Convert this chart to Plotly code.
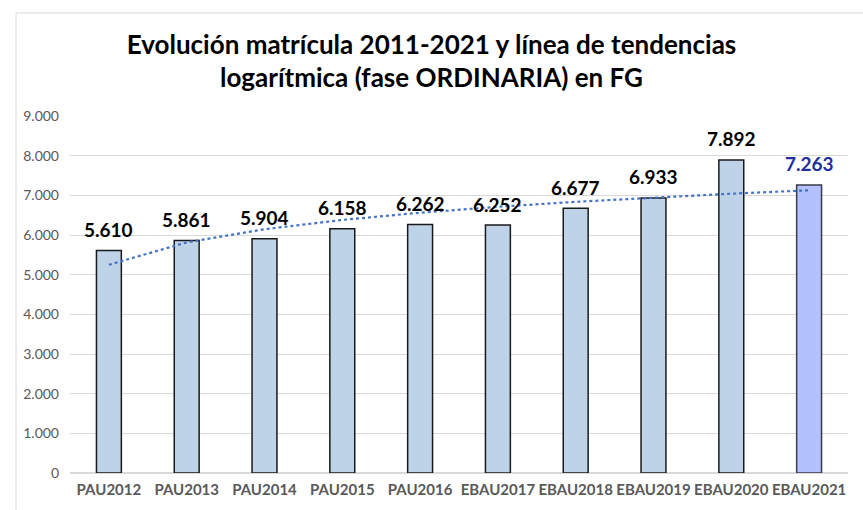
import numpy as np
import plotly.graph_objects as go

categories = ["PAU2012", "PAU2013", "PAU2014", "PAU2015", "PAU2016",
              "EBAU2017", "EBAU2018", "EBAU2019", "EBAU2020", "EBAU2021"]
values = [5610, 5861, 5904, 6158, 6262, 6252, 6677, 6933, 7892, 7263]
tick_vals = [0, 1000, 2000, 3000, 4000, 5000, 6000, 7000, 8000, 9000]
tick_text = ["0", "1.000", "2.000", "3.000", "4.000", "5.000", "6.000", "7.000", "8.000", "9.000"]

def fmt(v):
    return f"{v:,}".replace(",", ".")

# logarithmic trend line fitted to the values
xs = np.arange(1, len(values) + 1)
a, b = np.polyfit(np.log(xs), values, 1)
trend = a * np.log(xs) + b

bar_colors = ["#BFD3E8"] * (len(values) - 1) + ["#B3C1FE"]
line_colors = ["#1A1A1A"] * (len(values) - 1) + ["#3A3A4A"]
label_colors = ["#000000"] * (len(values) - 1) + ["#1F2F9F"]

FONT = "Lato, Carlito, Calibri, Arial"

fig = go.Figure()
fig.add_trace(go.Bar(
    x=categories, y=values, width=0.32,
    marker=dict(color=bar_colors, line=dict(color=line_colors, width=1.5)),
    hoverinfo="skip",
))
fig.add_trace(go.Scatter(
    x=categories, y=trend, mode="lines",
    line=dict(color="#4472C4", width=2.2, dash="dot"),
    hoverinfo="skip",
))

for c, v, col in zip(categories, values, label_colors):
    fig.add_annotation(x=c, y=v, text="<b>" + fmt(v) + "</b>", showarrow=False, yanchor="middle",
                       yshift=21, font=dict(size=19, color=col, family=FONT))

fig.update_layout(
    width=863, height=510,
    margin=dict(l=70, r=15, t=116, b=37),
    paper_bgcolor="white", plot_bgcolor="white",
    showlegend=False,
    title=dict(
        text="<b>Evolución matrícula 2011-2021 y línea de tendencias<br>logarítmica (fase ORDINARIA) en FG</b>",
        x=0.5, xanchor="center", y=0.895, yanchor="middle",
        font=dict(size=26, color="#000000", family=FONT),
    ),
    xaxis=dict(
        tickfont=dict(size=15, color="#595959", family=FONT),
        tickprefix="<b>", ticksuffix="</b>",
        showline=False, showgrid=False, ticks="", ticklabelstandoff=6,
    ),
    yaxis=dict(
        range=[0, 9000], tickvals=tick_vals, ticktext=tick_text,
        tickfont=dict(size=14, color="#595959", family=FONT),
        gridcolor="#D9D9D9", gridwidth=1, zeroline=True, zerolinecolor="#D9D9D9",
        showline=False, ticks="", ticklen=0, ticklabelstandoff=10,
    ),
)

# chart border
fig.add_shape(type="rect", xref="paper", yref="paper",
              x0=-54 / 778, x1=1 + 20 / 778, y0=-50 / 357, y1=1 + 103 / 357,
              line=dict(color="#D9D9D9", width=1), fillcolor="rgba(0,0,0,0)", layer="below")

fig.write_html("out.html", config={"displayModeBar": False},
               post_script="document.body.style.margin='0';")
